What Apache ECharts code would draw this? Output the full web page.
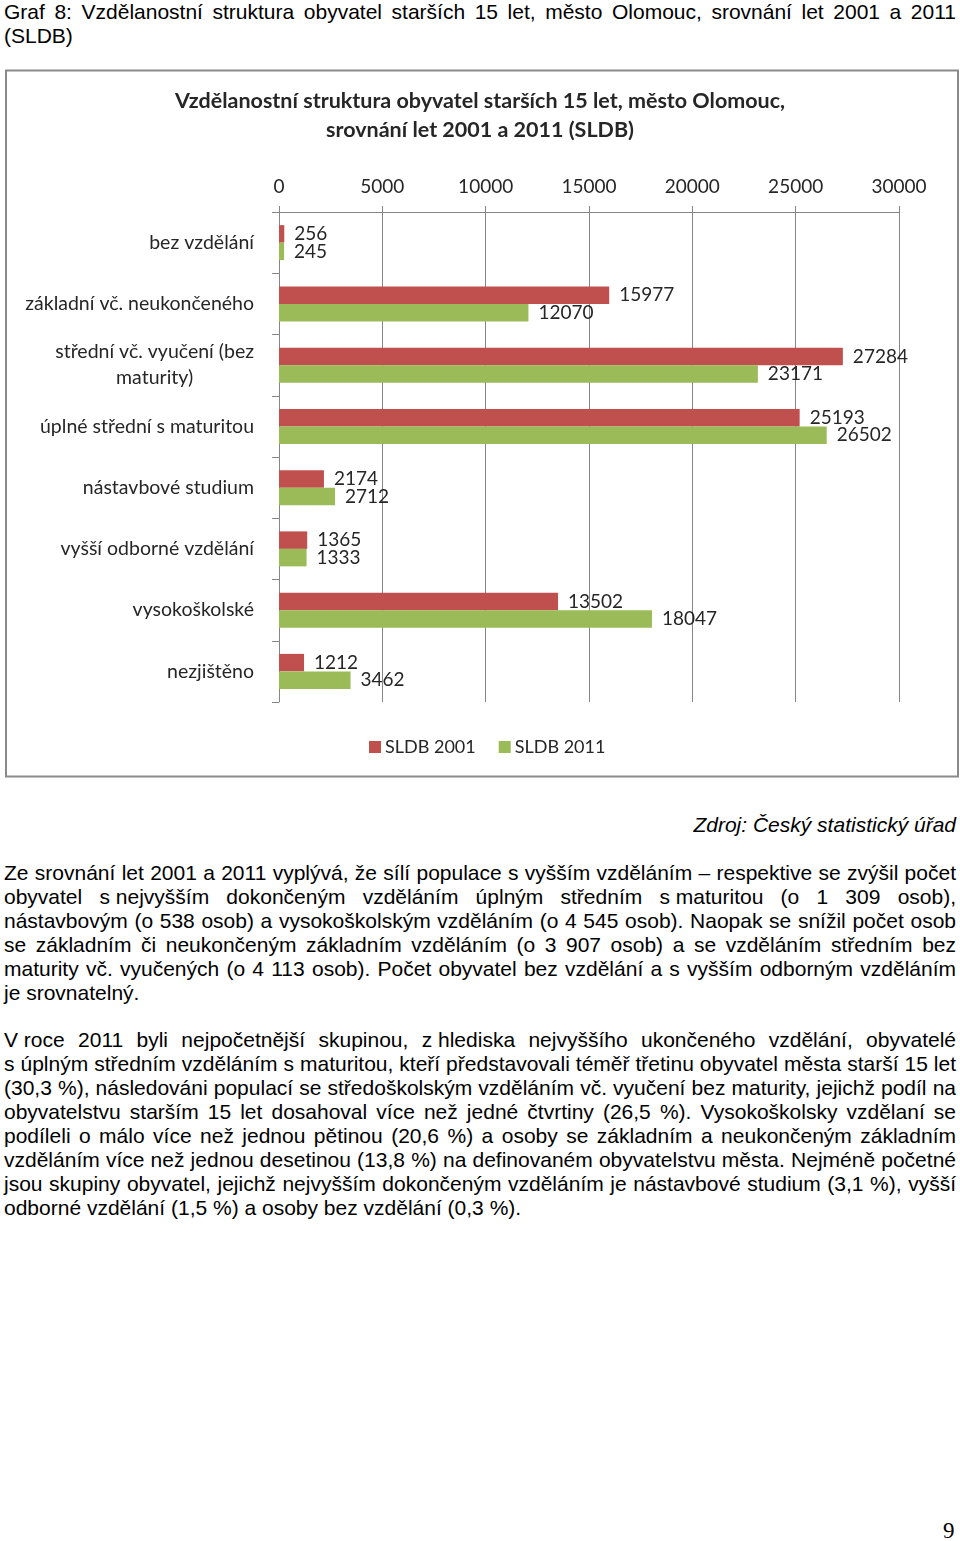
<!DOCTYPE html>
<html>
<head>
<meta charset="utf-8">
<script src="https://cdn.jsdelivr.net/npm/echarts@6/dist/echarts.min.js"></script>
<style>
  html, body { margin: 0; padding: 0; background: #fff; }
  body { width: 960px; height: 1541px; position: relative; overflow: hidden; }
  .txt { position: absolute; left: 4px; width: 952px; font-family: "Liberation Sans", Arial, sans-serif; font-size: 21px; line-height: 24px; color: #000; }
  .txt .j { text-align: justify; text-align-last: justify; white-space: nowrap; }
  .txt .l { text-align: left; white-space: nowrap; }
  .nb { display: inline-block; }
  #chart { position: absolute; left: 0; top: 60px; width: 960px; height: 730px; }
  #src { position: absolute; right: 4px; top: 813px; font-family: "Liberation Sans", Arial, sans-serif; font-style: italic; font-size: 21px; line-height: 24px; }
  #pg { position: absolute; left: 943px; top: 1519px; font-family: "Liberation Serif", "DejaVu Serif", serif; font-size: 23px; line-height: 24px; }
</style>
</head>
<body>
<div class="txt" style="top:0px">
  <div class="j">Graf 8: Vzdělanostní struktura obyvatel starších 15 let, město Olomouc, srovnání let 2001 a 2011</div>
  <div class="l">(SLDB)</div>
</div>
<div id="chart"></div>
<div id="src">Zdroj: Český statistický úřad</div>
<div class="txt" style="top:861px">
  <div class="j">Ze srovnání let 2001 a 2011 vyplývá, že sílí populace s vyšším vzděláním – respektive se zvýšil počet</div>
  <div class="j">obyvatel <span class="nb">s&nbsp;nejvyšším</span> dokončeným vzděláním úplným středním <span class="nb">s&nbsp;maturitou</span> (o 1 309 osob),</div>
  <div class="j">nástavbovým (o 538 osob) a vysokoškolským vzděláním (o 4 545 osob). Naopak se snížil počet osob</div>
  <div class="j">se základním či neukončeným základním vzděláním (o 3 907 osob) a se vzděláním středním bez</div>
  <div class="j">maturity vč. vyučených (o 4 113 osob). Počet obyvatel bez vzdělání a s vyšším odborným vzděláním</div>
  <div class="l">je srovnatelný.</div>
</div>
<div class="txt" style="top:1028px">
  <div class="j"><span class="nb">V&nbsp;roce</span> 2011 byli nejpočetnější skupinou, <span class="nb">z&nbsp;hlediska</span> nejvyššího ukončeného vzdělání, obyvatelé</div>
  <div class="j">s úplným středním vzděláním s maturitou, kteří představovali téměř třetinu obyvatel města starší 15 let</div>
  <div class="j">(30,3 %), následováni populací se středoškolským vzděláním vč. vyučení bez maturity, jejichž podíl na</div>
  <div class="j">obyvatelstvu starším 15 let dosahoval více než jedné čtvrtiny (26,5 %). Vysokoškolsky vzdělaní se</div>
  <div class="j">podíleli o málo více než jednou pětinou (20,6 %) a osoby se základním a neukončeným základním</div>
  <div class="j">vzděláním více než jednou desetinou (13,8 %) na definovaném obyvatelstvu města. Nejméně početné</div>
  <div class="j">jsou skupiny obyvatel, jejichž nejvyšším dokončeným vzděláním je nástavbové studium (3,1 %), vyšší</div>
  <div class="l">odborné vzdělání (1,5 %) a osoby bez vzdělání (0,3 %).</div>
</div>
<div id="pg">9</div>
<script>
const categories = [
  'bez vzdělání',
  'základní vč. neukončeného',
  'střední vč. vyučení (bez\nmaturity)',
  'úplné střední s maturitou',
  'nástavbové studium',
  'vyšší odborné vzdělání',
  'vysokoškolské',
  'nezjištěno'
];
const sldb2001 = [256, 15977, 27284, 25193, 2174, 1365, 13502, 1212];
const sldb2011 = [245, 12070, 23171, 26502, 2712, 1333, 18047, 3462];
const seriesNames = ['SLDB 2001', 'SLDB 2011'];
const chartTitle = 'Vzdělanostní struktura obyvatel starších 15 let, město Olomouc,\nsrovnání let 2001 a 2011 (SLDB)';

const FONT = 'Lato, "Open Sans", sans-serif';
const chart = echarts.init(document.getElementById('chart'), null, {renderer: 'canvas'});
chart.setOption({
  animation: false,
  textStyle: { fontFamily: FONT },
  title: {
    text: chartTitle,
    left: 'center',
    top: 22,
    textStyle: { fontFamily: FONT, fontSize: 21.5, fontWeight: 'bold', color: '#262626', lineHeight: 29, align: 'center' }
  },
  graphic: [{
    type: 'rect', shape: { x: 6, y: 10.5, width: 952, height: 706 },
    style: { fill: 'none', stroke: '#8a8a8a', lineWidth: 2 }, silent: true
  }],
  legend: {
    data: seriesNames,
    left: 369, top: 678, padding: 0,
    itemWidth: 12, itemHeight: 12, itemGap: 23, icon: 'rect',
    textStyle: { fontFamily: FONT, fontSize: 18, color: '#262626', padding: [0, 0, 0, -1] }
  },
  grid: { left: 279, right: 61, top: 152, height: 490, containLabel: false },
  xAxis: {
    type: 'value', position: 'top', min: 0, max: 30000, interval: 5000,
    axisLine: { show: true, lineStyle: { color: '#868686', width: 1 } },
    axisTick: { show: true, length: 6, lineStyle: { color: '#868686' } },
    splitLine: { show: true, lineStyle: { color: '#868686', width: 1 } },
    axisLabel: { fontFamily: FONT, fontSize: 19, color: '#262626', margin: 16,
      formatter: function (v) { return String(v); } }
  },
  yAxis: {
    type: 'category', inverse: true, data: categories,
    axisLine: { show: true, lineStyle: { color: '#868686', width: 1 } },
    axisTick: { show: true, length: 7, lineStyle: { color: '#868686' } },
    axisLabel: {
      margin: 25, align: 'right', fontFamily: FONT, fontSize: 19.5, color: '#262626',
      formatter: function (v) { return v.split('\n').map(function (s) { return '{c|' + s + '}'; }).join('\n'); },
      rich: { c: { align: 'center', fontFamily: FONT, fontSize: 19.5, color: '#262626', lineHeight: 26 } }
    }
  },
  series: [
    {
      name: seriesNames[0], type: 'bar', data: sldb2001, barWidth: 17.5, barGap: '0%',
      itemStyle: { color: '#C0504D' },
      label: { show: true, position: 'right', distance: 10, fontFamily: FONT, fontSize: 19, color: '#262626' }
    },
    {
      name: seriesNames[1], type: 'bar', data: sldb2011, barWidth: 17.5, barGap: '0%',
      itemStyle: { color: '#9BBB59' },
      label: { show: true, position: 'right', distance: 10, fontFamily: FONT, fontSize: 19, color: '#262626' }
    }
  ]
});
</script>
</body>
</html>
